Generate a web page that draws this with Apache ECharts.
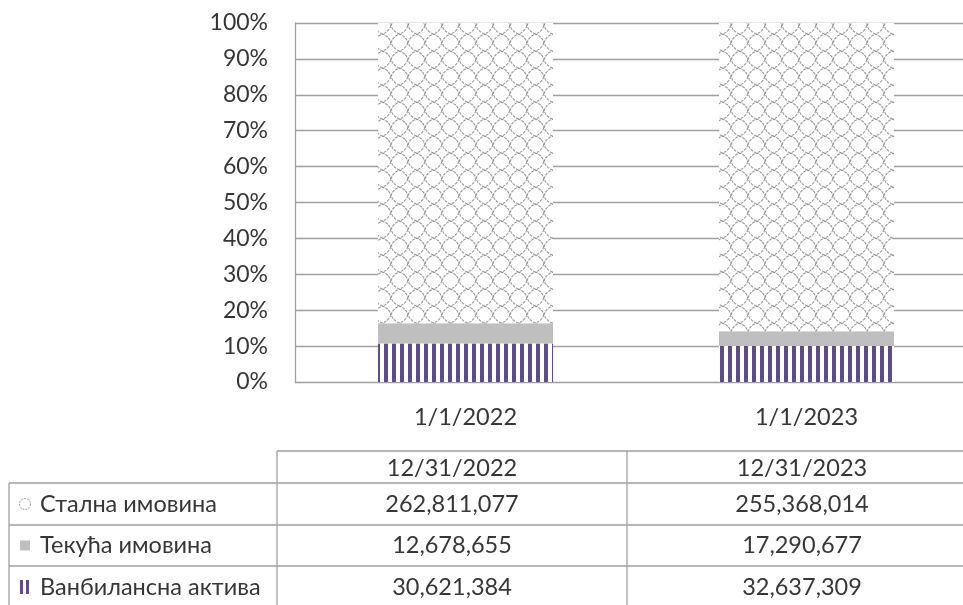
<!DOCTYPE html>
<html>
<head>
<meta charset="utf-8">
<script src="https://cdn.jsdelivr.net/npm/echarts@6/dist/echarts.min.js"></script>
<style>
html,body{margin:0;padding:0;background:#fff;overflow:hidden;width:963px;height:605px;}
#chart{width:977px;height:605px;}
</style>
</head>
<body>
<div id="chart"></div>
<script>
// ---- data ----
const tableColumns = ['12/31/2022', '12/31/2023'];
const barCategories = ['1/1/2022', '1/1/2023'];
// table column shown by each bar (as in the reference picture)
const barColumnIndex = [1, 0];
const seriesNames = ['Стална имовина', 'Текућа имовина', 'Ванбилансна актива'];
const stalna = [262811077, 255368014];
const tekuca = [12678655, 17290677];
const vanbilans = [30621384, 32637309];
const yTickValues = [0, 10, 20, 30, 40, 50, 60, 70, 80, 90, 100];

// ---- patterns ----
function crossPattern() {
  const s = 17, c = document.createElement('canvas');
  c.width = s; c.height = s;
  const g = c.getContext('2d');
  g.fillStyle = '#ffffff'; g.fillRect(0, 0, s, s);
  g.strokeStyle = '#989898';
  g.lineWidth = 1.1;
  g.setLineDash([3, 1]);
  const h = s / 2;
  g.beginPath();
  for (let i = 0; i <= 64; i++) {
    const a = i / 64 * Math.PI * 2;
    const r = 8.3 - 0.9 * Math.abs(Math.sin(2 * a));
    const x = h + r * Math.cos(a), y = h + r * Math.sin(a);
    if (i === 0) g.moveTo(x, y); else g.lineTo(x, y);
  }
  g.stroke();
  return c;
}
function stripePattern() {
  const c = document.createElement('canvas');
  c.width = 8; c.height = 8;
  const g = c.getContext('2d');
  g.fillStyle = '#ffffff'; g.fillRect(0, 0, 8, 8);
  g.fillStyle = '#5e4b8b'; g.fillRect(0, 0, 4, 8);
  return c;
}
const crossImg = crossPattern();
const stripeImg = stripePattern();

// ---- shares ----
const totals = tableColumns.map((_, i) => stalna[i] + tekuca[i] + vanbilans[i]);
const pct = arr => barColumnIndex.map(ci => arr[ci] / totals[ci] * 100);

const FONT = 'Lato';
const TXT = '#363636';
const LINE = '#a0a0a0';

// ---- table graphic ----
const fmt = v => v.toLocaleString('en-US');
const rowY = [451, 483, 525, 566, 608];
const colX = [9, 277, 627, 977];
const g = [];
function line(x1, y1, x2, y2) {
  g.push({type: 'line', shape: {x1, y1, x2, y2}, style: {stroke: LINE, lineWidth: 1.3}, silent: true});
}
line(colX[1], rowY[0], colX[3], rowY[0]);
for (let r = 1; r < rowY.length; r++) line(colX[0], rowY[r], colX[3], rowY[r]);
line(colX[0], rowY[1], colX[0], rowY[4]);
for (let c = 1; c < colX.length; c++) line(colX[c], rowY[0], colX[c], rowY[4]);
function text(str, x, y, align) {
  g.push({type: 'text', x, y, style: {text: str, fill: TXT, font: '23.5px ' + FONT, textAlign: align, textVerticalAlign: 'middle'}, silent: true});
}
tableColumns.forEach((t, i) => text(t, (colX[i + 1] + colX[i + 2]) / 2, (rowY[0] + rowY[1]) / 2 + 1, 'center'));
const tableRows = [stalna, tekuca, vanbilans];
tableRows.forEach((arr, r) => {
  const cy = (rowY[r + 1] + rowY[r + 2]) / 2;
  text(seriesNames[r], 40, cy, 'left');
  arr.forEach((v, i) => text(fmt(v), (colX[i + 1] + colX[i + 2]) / 2, cy, 'center'));
});
// legend keys
g.push({type: 'circle', shape: {cx: 25, cy: (rowY[1] + rowY[2]) / 2, r: 5.5}, style: {fill: 'none', stroke: '#9a9a9a', lineWidth: 1, lineDash: [2, 1]}, silent: true});
g.push({type: 'rect', shape: {x: 20, y: (rowY[2] + rowY[3]) / 2 - 5, width: 10, height: 10}, style: {fill: '#bfbfbf'}, silent: true});
g.push({type: 'rect', shape: {x: 20, y: (rowY[3] + rowY[4]) / 2 - 7, width: 3, height: 14}, style: {fill: '#5e4b8b'}, silent: true});
g.push({type: 'rect', shape: {x: 26, y: (rowY[3] + rowY[4]) / 2 - 7, width: 3, height: 14}, style: {fill: '#5e4b8b'}, silent: true});

const chart = echarts.init(document.getElementById('chart'), null, {renderer: 'canvas'});
chart.setOption({
  animation: false,
  backgroundColor: '#ffffff',
  textStyle: {fontFamily: FONT},
  grid: {left: 295, top: 23, right: 0, height: 359, containLabel: false},
  xAxis: {
    type: 'category',
    data: barCategories,
    axisLine: {show: false},
    axisTick: {show: false},
    axisLabel: {fontSize: 23.5, color: TXT, margin: 23, fontFamily: FONT}
  },
  yAxis: {
    type: 'value',
    min: 0, max: 100, interval: 10,
    axisLine: {show: true, lineStyle: {color: LINE, width: 1.3}},
    axisTick: {show: false},
    axisLabel: {fontSize: 23, color: TXT, margin: 27, fontFamily: FONT,
      formatter: v => yTickValues.includes(v) ? v + '%' : ''},
    splitLine: {show: true, lineStyle: {color: LINE, width: 1.3}}
  },
  series: [
    {name: seriesNames[2], type: 'bar', stack: 'a', barWidth: 175, data: pct(vanbilans),
      itemStyle: {color: {image: stripeImg, repeat: 'repeat'}}},
    {name: seriesNames[1], type: 'bar', stack: 'a', barWidth: 175, data: pct(tekuca),
      itemStyle: {color: '#bfbfbf'}},
    {name: seriesNames[0], type: 'bar', stack: 'a', barWidth: 175, data: pct(stalna),
      itemStyle: {color: {image: crossImg, repeat: 'repeat'}}}
  ],
  graphic: g
});
</script>
</body>
</html>
